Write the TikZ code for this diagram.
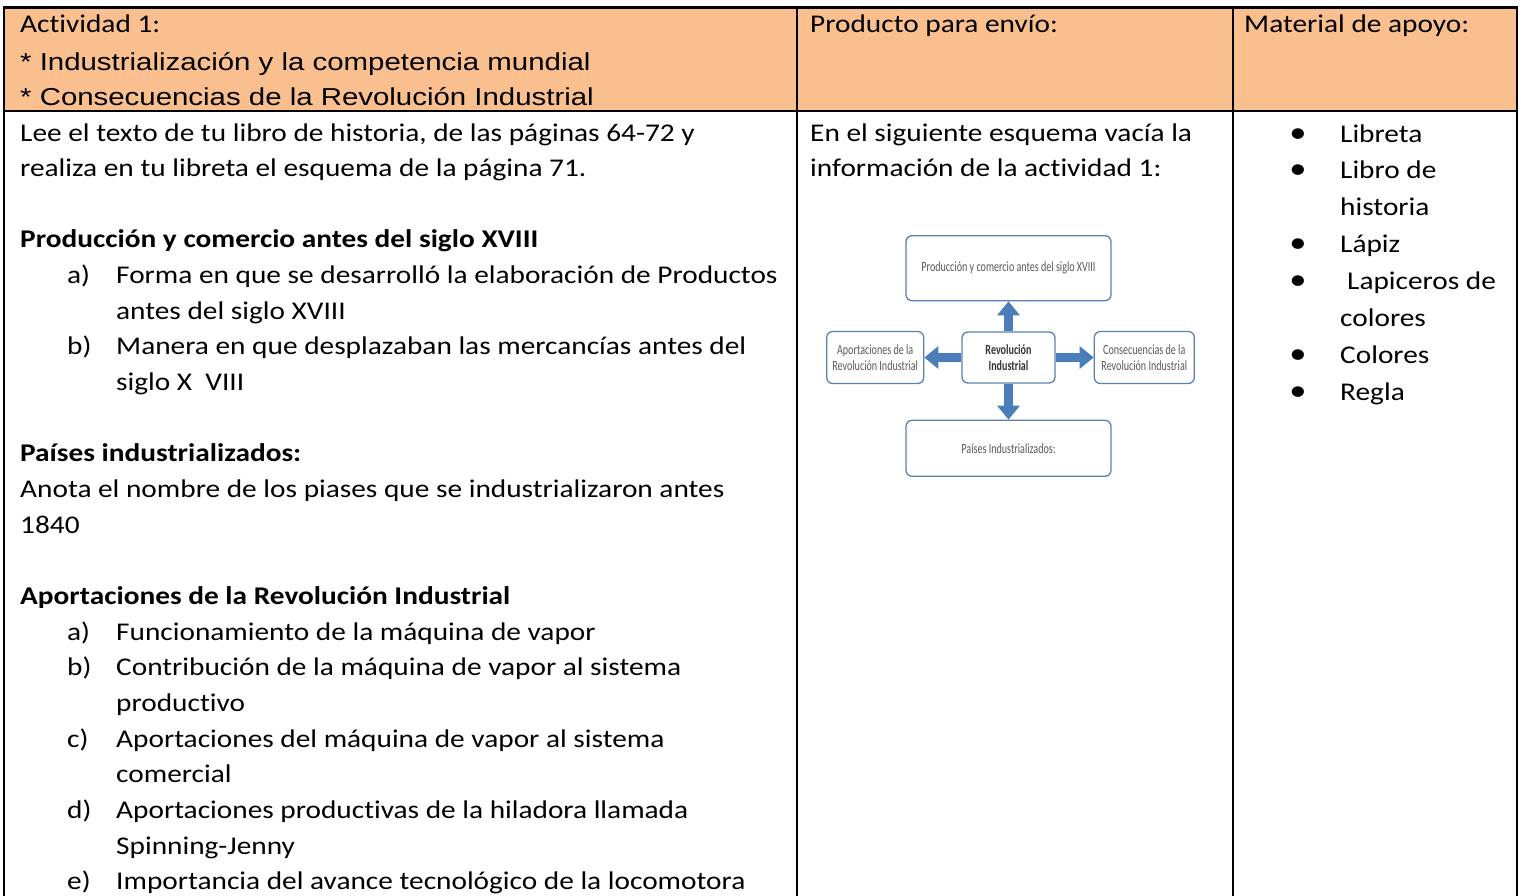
\documentclass[tikz,border=0pt]{standalone}
\usepackage{fontspec}
\setmainfont{Carlito}
\newfontfamily\calibri[FakeStretch=1.15,Ligatures=NoCommon]{Carlito}
\newfontfamily\arialfont[FakeStretch=1.2]{Liberation Sans}
\newfontfamily\esqfont[FakeStretch=0.72,Ligatures=NoCommon]{Carlito}
\usetikzlibrary{positioning}
\usetikzlibrary{arrows.meta}

\definecolor{peach}{HTML}{FABF8F}
\definecolor{boxblue}{HTML}{5B80B8}
\definecolor{arrowblue}{HTML}{4A7EBB}
\definecolor{boxtext}{HTML}{595959}

% baseline of row #1 in the left column
\newcommand{\fy}[1]{141+35.65*#1}
% baseline of row #1 in the right column
\newcommand{\gy}[1]{142+36.9*#1}

\begin{document}
\begin{tikzpicture}[x=1pt,y=-1pt,
    cell/.style={draw=black, line width=2.6pt},
    txt/.style={anchor=base west, inner sep=0pt,
      font=\calibri\fontsize{25.5}{35.65}\selectfont},
    head/.style={anchor=base west, inner sep=0pt,
      font=\arialfont\fontsize{24.5}{35}\selectfont},
    bul/.style={anchor=base, inner sep=0pt,
      font=\calibri\fontsize{30}{30}\selectfont},
    esq/.style={draw=boxblue, line width=1.3pt, rounded corners=6pt,
      fill=white, align=center, inner sep=0pt, text=boxtext,
      font=\esqfont\fontsize{14}{15.5}\selectfont},
    flecha/.style={draw=arrowblue, line width=9.5pt,
      -{Triangle[length=14pt,width=22pt]}}]
  \useasboundingbox (0,0) rectangle (1521,895);

  % table
  \fill[peach] (4,7.5) rectangle (1517,111);
  \draw[cell] (2.7,7.5) -- (1518.3,7.5);
  \draw[cell] (4,111) -- (1517,111);
  \draw[cell] (4,7.5) -- (4,900);
  \draw[cell] (797,7.5) -- (797,900);
  \draw[cell] (1233,7.5) -- (1233,900);
  \draw[cell] (1517,7.5) -- (1517,900);

  % header
  \node[txt] (act) at (20,32) {Actividad 1:};
  \node[head] (ind) at (20,70) {* Industrialización y la competencia mundial};
  \node[head] (cons-h) at (20,105) {* Consecuencias de la Revolución Industrial};
  \node[txt] (prod-h) at (810,32) {Producto para envío:};
  \node[txt] (mat-h) at (1244,32) {Material de apoyo:};

  % left column
  \node[txt] (lee) at (20,{\fy{0}}) {Lee el texto de tu libro de historia, de las páginas 64-72 y};
  \node[txt] (realiza) at (20,{\fy{1}}) {realiza en tu libreta el esquema de la página 71.};
  \node[txt] (t-prod) at (20,{\fy{3}}) {\textbf{Producción y comercio antes del siglo XVIII}};
  \node[txt] (pa) at (67,{\fy{4}}) {a)};
  \node[txt] (pa-1) at (116,{\fy{4}}) {Forma en que se desarrolló la elaboración de Productos};
  \node[txt] (pa-2) at (116,{\fy{5}}) {antes del siglo XVIII};
  \node[txt] (pb) at (67,{\fy{6}}) {b)};
  \node[txt] (pb-1) at (116,{\fy{6}}) {Manera en que desplazaban las mercancías antes del};
  \node[txt] (pb-2) at (116,{\fy{7}}) {siglo X\ \ VIII};
  \node[txt] (t-pais) at (20,{\fy{9}}) {\textbf{Países industrializados:}};
  \node[txt] (anota) at (20,{\fy{10}}) {Anota el nombre de los piases que se industrializaron antes};
  \node[txt] (anio) at (20,{\fy{11}}) {1840};
  \node[txt] (t-apor) at (20,{\fy{13}}) {\textbf{Aportaciones de la Revolución Industrial}};
  \node[txt] (aa) at (67,{\fy{14}}) {a)};
  \node[txt] (aa-1) at (116,{\fy{14}}) {Funcionamiento de la máquina de vapor};
  \node[txt] (ab) at (67,{\fy{15}}) {b)};
  \node[txt] (ab-1) at (116,{\fy{15}}) {Contribución de la máquina de vapor al sistema};
  \node[txt] (ab-2) at (116,{\fy{16}}) {productivo};
  \node[txt] (ac) at (67,{\fy{17}}) {c)};
  \node[txt] (ac-1) at (116,{\fy{17}}) {Aportaciones del máquina de vapor al sistema};
  \node[txt] (ac-2) at (116,{\fy{18}}) {comercial};
  \node[txt] (ad) at (67,{\fy{19}}) {d)};
  \node[txt] (ad-1) at (116,{\fy{19}}) {Aportaciones productivas de la hiladora llamada};
  \node[txt] (ad-2) at (116,{\fy{20}}) {Spinning-Jenny};
  \node[txt] (ae) at (67,{\fy{21}}) {e)};
  \node[txt] (ae-1) at (116,{\fy{21}}) {Importancia del avance tecnológico de la locomotora};

  % middle column
  \node[txt] (esquema) at (810,{\fy{0}}) {En el siguiente esquema vacía la};
  \node[txt] (info) at (810,{\fy{1}}) {información de la actividad 1:};

  \node[esq, minimum width=93pt, minimum height=51pt] (rev) at (1008.5,357.5)
    {\textbf{\color{black!80}Revolución}\\\textbf{\color{black!80}Industrial}};
  \node[esq, minimum width=205pt, minimum height=65pt] (prod) [above=30pt of rev]
    {Producción y comercio antes del siglo XVIII};
  \node[esq, minimum width=97pt, minimum height=52pt] (apor) [left=37pt of rev]
    {Aportaciones de la\\Revolución Industrial};
  \node[esq, minimum width=100pt, minimum height=52pt] (cons) [right=38pt of rev]
    {Consecuencias de la\\Revolución Industrial};
  \node[esq, minimum width=205pt, minimum height=56pt] (paises) [below=36pt of rev]
    {Países Industrializados:};

  \draw[flecha] (rev) -- (prod);
  \draw[flecha] (rev) -- (apor);
  \draw[flecha] (rev) -- (cons);
  \draw[flecha] (rev) -- (paises);

  % right column
  \node[bul] (b1) at (1298,{\gy{0}}) {•};
  \node[txt] (libreta) at (1340,{\gy{0}}) {Libreta};
  \node[bul] (b2) at (1298,{\gy{1}}) {•};
  \node[txt] (libro) at (1340,{\gy{1}}) {Libro de};
  \node[txt] (historia) at (1340,{\gy{2}}) {historia};
  \node[bul] (b3) at (1298,{\gy{3}}) {•};
  \node[txt] (lapiz) at (1340,{\gy{3}}) {Lápiz};
  \node[bul] (b4) at (1298,{\gy{4}}) {•};
  \node[txt] (lapiceros) at (1347,{\gy{4}}) {Lapiceros de};
  \node[txt] (colores-2) at (1340,{\gy{5}}) {colores};
  \node[bul] (b5) at (1298,{\gy{6}}) {•};
  \node[txt] (colores) at (1340,{\gy{6}}) {Colores};
  \node[bul] (b6) at (1298,{\gy{7}}) {•};
  \node[txt] (regla) at (1340,{\gy{7}}) {Regla};
\end{tikzpicture}
\end{document}
